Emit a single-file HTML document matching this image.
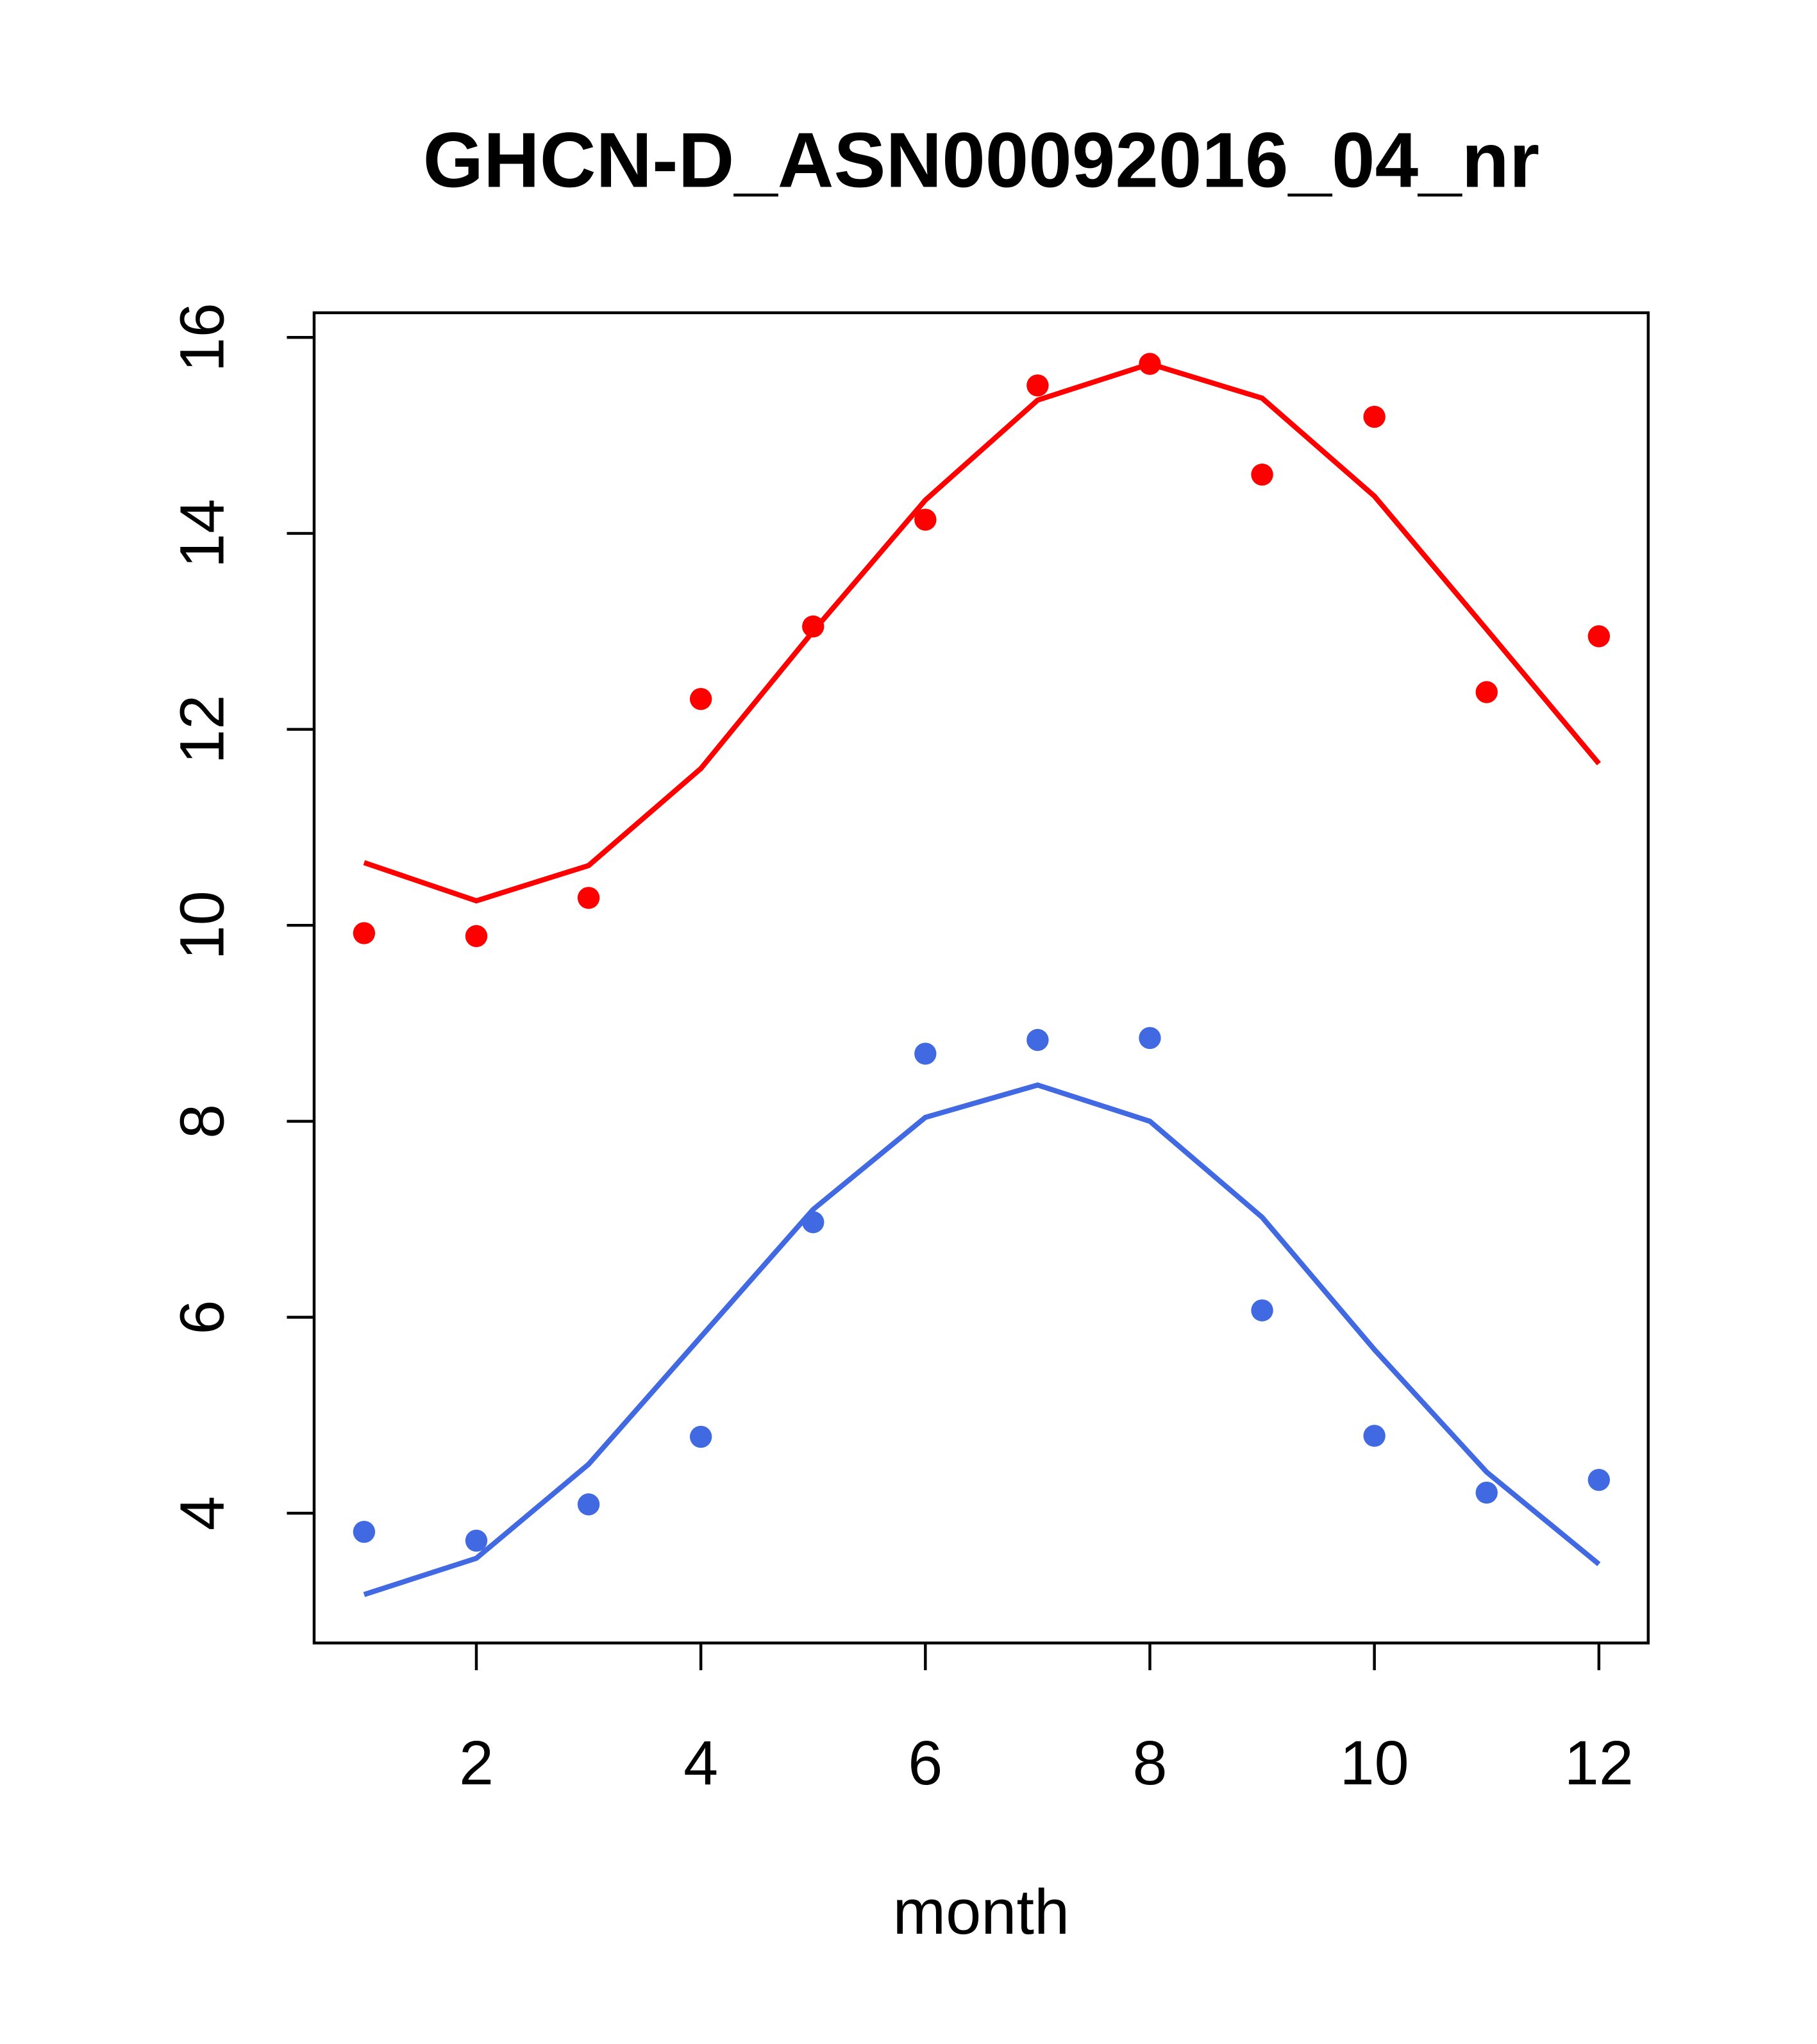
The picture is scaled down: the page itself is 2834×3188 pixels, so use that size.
<!DOCTYPE html>
<html><head><meta charset="utf-8"><style>html,body{margin:0;padding:0;background:#fff}svg{display:block}</style></head>
<body>
<svg id="chart" width="2834" height="3188" viewBox="0 0 1400 1575" xmlns="http://www.w3.org/2000/svg" font-family="Liberation Sans, Arial, sans-serif">
<rect width="1400" height="1575" fill="#fff"/>
<text x="756" y="144" font-size="60" font-weight="bold" text-anchor="middle">GHCN-D_ASN00092016_04_nr</text>
<rect x="242" y="241" width="1028" height="1025" fill="none" stroke="#000" stroke-width="2.2"/>
<text x="756" y="1490" font-size="49" text-anchor="middle">month</text>
<g id="axes"></g>
<g id="marks"></g>
</svg>
<script>
const months=[1,2,3,4,5,6,7,8,9,10,11,12];
const redPoints=[9.92,9.89,10.28,12.31,13.05,14.14,15.51,15.73,14.6,15.19,12.38,12.95];
const redLine=[10.64,10.25,10.61,11.6,13.0,14.34,15.36,15.73,15.38,14.38,13.02,11.65];
const bluePoints=[3.81,3.72,4.09,4.78,6.97,8.69,8.83,8.85,6.07,4.79,4.21,4.34];
const blueLine=[3.17,3.54,4.5,5.8,7.1,8.04,8.37,8.0,7.02,5.67,4.42,3.48];
const xTicks=[2,4,6,8,10,12];
const yTicks=[4,6,8,10,12,14,16];
const NS='http://www.w3.org/2000/svg';
function xs(m){return 280.5+(m-1)*86.5;}
function ys(v){return 260+(16-v)*75.5;}
const axes=document.getElementById('axes'),marks=document.getElementById('marks');
function mk(t,a,p){const e=document.createElementNS(NS,t);for(const k in a)e.setAttribute(k,a[k]);p.appendChild(e);return e;}
xTicks.forEach(t=>{
 const l=mk('line',{x1:xs(t),x2:xs(t),y1:1266,y2:1287,stroke:'#000','stroke-width':2.2},axes);
 
 
 const tx=mk('text',{x:xs(t),y:1375,'font-size':48,'text-anchor':'middle'},axes);tx.textContent=t;
 
 
});
yTicks.forEach(t=>{
 const l=mk('line',{x1:221,x2:242,y1:ys(t),y2:ys(t),stroke:'#000','stroke-width':2.2},axes);
 
 
 const tx=mk('text',{x:0,y:0,'font-size':48,'text-anchor':'middle',transform:`translate(172,${ys(t)}) rotate(-90)`},axes);tx.textContent=t;
 
 
});
function series(line,pts,col,name){
 const p=mk('polyline',{points:line.map((v,i)=>xs(months[i])+','+ys(v)).join(' '),fill:'none',stroke:col,'stroke-width':4},marks);
 
 
 pts.forEach((v,i)=>{
  const c=mk('circle',{cx:xs(months[i]),cy:ys(v),r:8.5,fill:col},marks);
  
  
 });
}
series(redLine,redPoints,'#ff0000','tmax');
series(blueLine,bluePoints,'#4169e1','tmin');
</script>
</body></html>
